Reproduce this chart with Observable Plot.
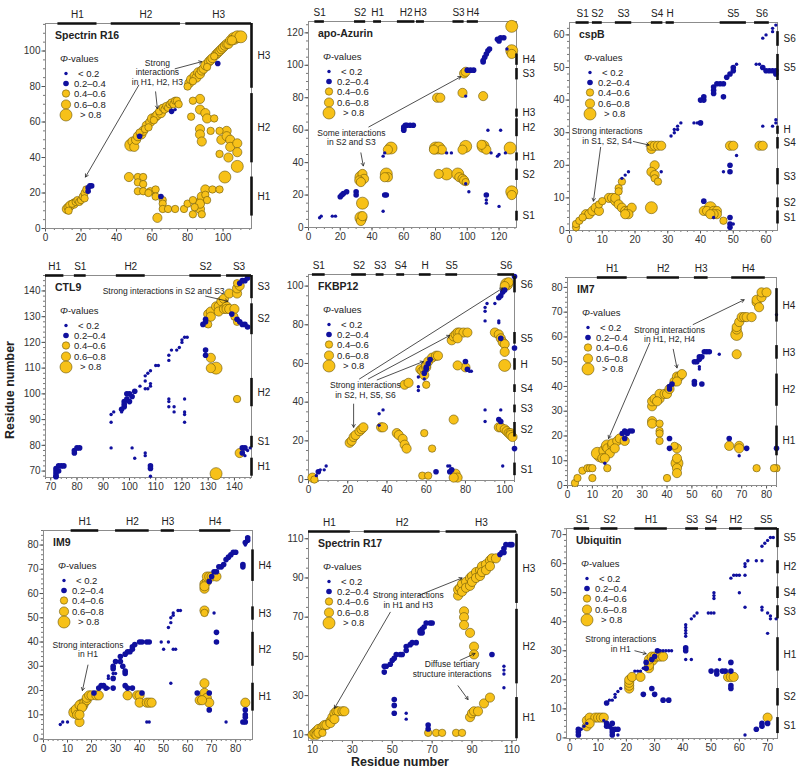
<!DOCTYPE html>
<html><head><meta charset="utf-8">
<script src="https://cdn.jsdelivr.net/npm/d3@7"></script>
<script src="https://cdn.jsdelivr.net/npm/@observablehq/plot@0.6"></script>
<style>
body{margin:0;background:#fff;font-family:Arial,"Liberation Sans",sans-serif}
#wrap{position:relative;width:800px;height:773px;overflow:hidden;background:#fff}
.axlab{position:absolute;font-weight:bold;font-size:12.5px;color:#222;white-space:nowrap}
</style></head><body><div id="wrap"></div>
<script>
// ---------- shared legend values ----------
const phiLabels = ["< 0.2", "0.2\u20130.4", "0.4\u20130.6", "0.6\u20130.8", "> 0.8"];

// ---------- Spectrin R16 ----------
const r16Ticks = [0,20,40,60,80,100];
const r16Segs = [["H1",7,29],["H2",37,76],["H3",79,116]];
const r16Pts = [
[12,11,3],[13,10,2],[13,12,3],[14,13,3],[15,14,2],[16,14,3],[17,15,2],[18,16,2],[19,15,2],[20,16,2],[21,18,2],[22,20,2],[22,17,2],[23,22,2],
[24,23,1],[25,24,1],[26,24,1],[24,21,1],
[48,47,4],[49,49,3],[50,46,3],[51,50,3],[52,52,3],[53,54,2],[54,53,3],[55,55,3],[56,56,2],[57,58,3],[58,57,2],[59,60,3],[60,62,3],[61,61,2],[62,63,3],[63,64,3],[64,66,2],[65,65,3],[66,68,2],[67,67,2],[68,69,2],[69,68,2],[70,70,2],[71,71,2],[72,70,2],[73,72,2],[74,72,2],[75,70,2],
[53,52,1],[71,66,1],[73,67,0],
[80,80,2],[81,82,3],[82,84,3],[83,83,2],[84,86,3],[85,85,3],[86,88,3],[87,87,3],[88,89,3],[89,90,3],[90,92,3],[91,91,2],[92,94,3],[93,95,3],[94,96,3],[95,97,2],[96,98,3],[97,99,3],[98,100,3],[99,101,3],[100,102,3],[101,103,3],[102,104,3],[103,104,3],[104,106,3],[105,106,3],[106,107,4],[108,108,4],[110,108,4],
[97,93,1],
[83,72,2],[87,73,3],[87,67,3],[90,65,3],[82,63,2],[91,62,3],[95,62,2],[87,56,3],[87,53,3],[88,49,3],[93,55,2],[98,55,2],[102,55,3],[99,50,3],[102,52,3],[104,50,3],[104,46,3],[108,48,3],[108,43,3],[98,42,2],[103,40,3],[108,35,4],[101,29,4],
[47,29,3],[52,29,2],[52,26,2],[55,29,2],[55,25,2],[52,21,2],[55,21,2],[59,21,2],[62,22,2],[62,18,2],[58,20,2],[66,16,2],[66,14,2],[66,11,2],[69,11,2],[73,11,2],[78,11,2],[63,6,3],
[65,18,1],
[80,14,2],[83,16,2],[83,8,2],[84,12,2],[87,15,3],[87,11,3],[88,18,3],[90,22,3],[90,19,2],[94,22,2],[98,22,2],[88,8,2],[91,16,2],[87,14,3]
];
const r16Notes = [{x:63, y:88, text:"Strong\ninteractions\nin H1, H2, H3"}];
const r16Arrows = [[62,77,63,67.5],[52.5,80.7,22.5,29],[73,90,88,94]];

// ---------- apo-Azurin ----------
const azuTicks = [0,20,40,60,80,100,120];
const azuSegs = [["S1",4,10],["S2",29,36],["H1",41,46],["H2",56,67],["H3",68,73],["S3",91,98],["H4",100,107]];
const azuPts = [
[7,6,0],[8,7,0],[15,7,0],[17,7,0],[20,19,1],[21,20,1],[22,21,1],[24,22,1],[30,22,1],[30,20,1],
[33,31,4],[34,33,3],[35,30,3],[32,29,3],[33,28,3],[34,15,4],[33,6,4],[33,4,3],[34,7,3],[49,33,4],[50,31,3],[48,31,3],
[49,20,1],[48,20,1],[47,10,0],[47,44,0],[48,46,0],
[52,49,4],[50,48,3],
[60,60,1],[60,61,1],[60,62,1],[61,63,1],[62,63,1],[64,63,1],[66,63,1],
[80,49,4],[82,49,4],[84,48,3],[79,48,3],[87,46,0],[90,46,0],
[99,50,4],[97,48,3],[110,50,4],[112,48,3],[109,51,3],[115,46,0],
[127,49,4],
[119,44,0],[120,45,0],[124,46,0],[113,60,0],[121,60,0],
[82,33,3],[87,33,4],[94,33,4],[95,31,3],[97,30,3],[98,29,3],[99,28,2],[99,27,0],[101,22,0],
[112,20,1],[112,17,0],[112,15,0],[120,13,0],
[128,22,4],[128,20,3],
[81,80,3],[83,80,3],[97,83,3],[110,81,3],[99,81,0],
[98,95,3],[99,96,3],[100,97,1],[102,97,1],[104,97,1],
[110,103,1],[110,102,1],[111,105,1],[112,107,1],[113,109,1],[114,110,1],
[119,116,1],[121,117,1],[123,117,1],[120,115,1],
[125,110,0],
[128,109,4],[128,107,3],[128,124,4]
];
const azuNotes = [{x:27, y:55.5, text:"Some interactions\nin S2 and S3"}];
const azuArrows = [[33,46,34.5,38],[38,62,96,93]];

// ---------- cspB ----------
const cspTicks = [0,10,20,30,40,50,60];
const cspSegs = [["S1",2,6],["S2",7,10],["S3",14,19],["S4",25,28.5],["H",29.5,32],["S5",46,54],["S6",56.5,61]];
const cspPts = [
[2,1,2],[2,2,2],[3,3,2],[4,4,2],[5,5,3],[6,5,3],[7,6,3],[8,7,3],[9,8,2],[9,6,3],[10,9,2],[12,10,3],[13,10,3],[14,9,3],[14,10,3],[15,8,3],[15,13,2],[15,12,2],[16,15,2],[16,7,3],[17,6,3],[18,6,3],[19,7,3],[18,5,3],[17,5,3],
[16,16,0],[17,17,0],[18,18,0],
[25,7,4],
[25,25,3],[25,26,3],[26,26,3],[27,26,3],[28,26,3],[26,20,3],[25,18,3],[26,17,3],[26,16,2],[27,15,2],[28,18,0],
[31,29,0],[32,31,0],[33,31,0],[33,32,0],[32,30,0],[34,33,0],
[38,33,0],[39,33,0],[40,33,1],
[40,40,1],[41,40,1],[41,41,1],[44,43,1],[44,44,1],[45,45,1],[46,45,1],[47,45,1],[44,42,1],[47,41,1],
[48,47,1],[49,48,1],[50,49,1],[50,50,1],[51,51,0],
[47,18,0],[49,20,1],[49,18,1],[51,23,0],
[49,4,1],[49,2,1],[49,1,1],[50,2,0],
[47,3,2],
[41,6,3],[42,6,3],[43,7,4],[44,6,3],[45,6,3],[45,5,3],[44,5,3],[43,5,3],[41,9,1],[44,4,0],
[49,26,3],[50,26,3],[58,26,3],[59,26,3],
[57,51,0],[58,51,0],[59,50,1],[60,49,1],[61,49,1],[62,49,1],[63,49,1],[63,48,1],
[59,32,0],[62,32,0],[63,34,0],[63,33,0],
[59,59,0],[60,60,0],[62,61,0],[62,62,0],[63,63,0]
];
const cspNotes = [{x:11.5, y:29, text:"Strong interactions\nin S1, S2, S4"}];
const cspArrows = [[9.5,25.5,7.3,9],[19.5,27.3,24.3,26.2]];

// ---------- CTL9 ----------
const ctlTicks = [70,80,90,100,110,120,130,140];
const ctlSegs = [["H1",68,75],["S1",79,83.5],["H2",95,106],["S2",123,135],["S3",137,146.5]];
const ctlPts = [
[72,68,1],[72,69,1],[72,70,1],[72,71,1],[73,72,1],[74,72,1],[75,72,1],[73,70,1],[72,67.8,1],
[79,77,1],[79,78,1],[80,79,1],[81,79,1],
[93,89,0],[93,92,0],[94,93,0],[97,93,0],[98,95,1],[98,97,1],[99,98,1],[99,100,1],[100,100,1],[102,101,1],[100,97,1],[101,99,1],[98,96,1],[97,94,1],
[104,103,0],[106,102,0],[107,102,0],[108,103,0],[106,105,0],[106,107,0],[107,108,0],[108,109,0],[110,111,0],[111,111,0],[115,113,0],[115,115,0],[116,117,0],[118,117,0],[119,118,0],[120,120,0],[120,121,0],[121,122,0],[122,122,0],[108,104,0],
[93,79,0],[101,79,0],[102,75,0],[106,76,0],[106,77,0],[108,72,1],[108,71,1],[108,68,0],
[115,98,0],[115,97,0],[115,95,0],[117,95,0],[117,93,0],[121,93,0],[121,92,0],[121,89,0],[121,98,0],
[129,129,1],[129,128,1],[128,127,1],[139,131,1],[141,129,1],[142,128,1],[143,127,1],[144,127,1],[145,126,1],[142,143,1],[143,144,1],[144,144,1],[145,145,1],
[130,131,3],[131,132,3],[133,134,3],[134,134,3],[135,136,3],[136,137,3],[138,139,3],[131,130,3],[134,132,3],[136,133,3],[137,134,3],[137,133,3],[138,133,3],[140,133,3],[130,127,2],[140,130,2],[141,128,2],[141,139,3],[141,141,3],[142,142,3],[141,143,2],
[131,114,3],[131,110,3],[133,110,4],[129,117,1],[129,115,1],
[141,98,2],
[142,77,3],[143,79,1],[144,79,1],[145,78,0],[143,77,1],[144,76,0],[146,79,0],
[133,69,4]
];
const ctlNotes = [{x:113, y:140, text:"Strong interactions in S2 and S3"}];
const ctlArrows = [[129,138,137.5,136]];

// ---------- FKBP12 ----------
const fkbTicks = [0,20,40,60,80,100];
const fkbSegs = [["S1",2,8.5],["S2",22,29.5],["S3",34.5,38.5],["S4",45,49],["H",56.5,62.5],["S5",70,76],["S6",96.5,105]];
const fkbPts = [
[2,1,3],[3,0,2],[4,2,0],[5,4,1],[6,5,0],[8,5,0],[9,7,0],
[21,19,3],[22,20,3],[23,22,3],[24,23,3],[26,25,3],[27,26,3],[28,27,3],
[36,28,0],[36,34,0],[38,36,0],[37,27,3],[38,27,3],
[45,24,3],[46,23,3],[48,21,3],[49,18,3],[50,16,3],
[59,24,2],[63,16,2],[58,2,2],[61,2,2],
[65,4,1],[71,7,0],[72,7,0],[72,4,1],[73,5,1],
[75,3,3],[76,1,3],[74,1,3],
[74,31,3],
[56,48,0],[56,46,0],[56,53,0],
[49,49,3],[51,50,3],
[57,57,3],[58,56,3],[59,57,3],[60,58,3],[60,59,3],[61,61,3],[63,63,3],[65,64,3],[66,64,3],[60,49,2],[59,54,3],
[60,57,1],[60,58,1],[61,60,1],[62,62,1],[59,52,0],[59,55,1],
[80,61,1],[81,57,1],[82,56,0],[83,56,0],[80,58,3],[76,59,3],
[73,72,3],[74,74,3],[75,75,3],[76,76,3],[77,76,3],[79,76,3],[81,76,3],[76,73,3],
[90,82,0],[91,91,0],[90,89,0],[90,87,0],[95,91,0],[97,81,0],[97,82,0],
[98,95,1],[99,97,1],[100,98,1],[97,94,1],
[101,101,4],[102,102,3],[100,100,3],
[105,105,1],[105,68,1],[105,16,1],
[95,76,3],[97,75,3],[98,73,3],[99,71,3],[100,70,3],[100,66,3],[100,59,4],[98,73,1],
[90,36,0],[98,36,0],[90,30,0],[97,31,1],[98,30,1],
[97,27,3],[98,27,3],[100,26,3],[101,25,3],[102,24,3],[103,24,3],[103,23,3],[104,22,3],
[99,7,0]
];
const fkbNotes = [{x:29, y:46.5, text:"Strong interactions\nin S2, H, S5, S6"}];
const fkbArrows = [[23,39,23,27],[26,52,99,99],[30.5,52,72,74.5],[35,51.5,58.5,61]];

// ---------- IM7 ----------
const im7Ticks = [0,10,20,30,40,50,60,70,80];
const im7Segs = [["H1",12,24],["H2",32,45],["H3",51,56.5],["H4",66,79.5]];
const im7Pts = [
[3,1,2],[4,3,2],[6,6,2],[8,7,2],[9,7,2],[10,7,2],[10,3,2],
[13,12,4],[12,13,4],[14,11,3],[15,14,4],[16,15,3],[16,16,4],[18,16,3],[18,17,3],[20,18,3],[21,19,3],[23,18,3],[16,7,2],[17,13,3],[19,15,3],[15,11,3],
[22,21,1],[23,22,1],[25,22,1],[26,22,1],[24,21,1],[23,19,1],[15,9,0],
[34,32,3],[34,34,3],[35,35,3],[37,35,3],[37,37,3],[39,37,3],[40,37,3],[41,39,3],[43,42,3],[44,44,3],[45,44,3],[46,45,3],[44,42,3],[36,34,3],
[41,39,1],[41,40,1],[42,41,1],
[34,26,3],[34,25,3],[37,25,2],[37,22,2],[37,21,2],[37,18,2],
[41,19,1],[41,15,1],[40,3,2],
[44,15,3],[44,11,3],[44,9,4],[44,7,3],[44,5,3],[43,16,2],
[51,41,1],[51,42,1],[51,50,1],[52,50,1],[53,51,1],[53,52,1],[54,52,1],[55,54,1],[56,54,1],[57,54,1],[53,48,0],[53,47,0],[54,41,1],[61,53,0],
[68,53,3],
[68,61,4],[68,63,3],[68,64,3],[69,66,3],[70,68,3],[71,68,3],[72,68,3],[74,68,3],[76,74,3],[76,75,3],[78,76,3],[78,78,3],[80,78,3],[77,72,3],
[65,19,1],[65,16,3],[69,16,3],[69,15,3],[69,12,0],[72,15,1],
[76,7,2],[84,7,2],[83,7,2],
[84,15,1],[84,69,0]
];
const im7Notes = [{x:41, y:61, text:"Strong interactions\nin H1, H2, H4"}];
const im7Arrows = [[33,57.5,16.5,19],[42.5,55,44,47.5],[50.5,65,71,75]];

// ---------- IM9 ----------
const im9Ticks = [0,10,20,30,40,50,60,70,80];
const im9Segs = [["H1",11.5,23],["H2",30,44],["H3",49,54.5],["H4",65,78]];
const im9Pts = [
[7,6,0],[8,7,0],[10,7,0],[15,7,3],
[13,11,4],[14,12,4],[15,14,3],[16,14,4],[17,15,3],[18,16,3],[18,17,3],[19,18,3],[20,18,3],[22,18,3],[23,18,3],[16,13,3],[14,10,3],[15,10,3],
[21,19,1],[23,21,1],[24,22,1],[25,22,1],[26,21,1],[27,26,0],[27,25,0],[29,27,0],[30,27,0],[27,21,0],
[29,29,1],[29,30,1],[30,32,1],[32,32,1],[32,34,1],[34,35,1],[35,36,1],[36,36,1],[37,37,1],[37,38,1],[38,39,1],[40,40,1],[41,40,1],[43,40,1],[44,40,1],[29,25,1],[29,21,1],[33,30,1],[34,28,1],[34,27,1],[34,22,1],[35,21,1],[37,21,1],[41,19,1],
[35,18,3],[39,18,3],[40,18,3],[40,15,3],[43,15,3],[44,15,3],[45,15,3],
[43,7,0],[44,7,0],
[49,40,0],[50,37,0],[52,40,0],[54,37,0],[55,37,0],[53,23,0],[52,46,0],[53,48,0],[53,50,0],[54,51,0],[54,52,0],[56,53,0],[57,53,0],
[67,53,3],[67,52,2],
[71,52,0],[72,44,1],[72,40,1],
[67,64,3],[67,62,3],[68,65,3],[68,67,3],[69,67,3],[70,67,3],[72,67,3],[67,63,3],
[69,65,1],[70,67,1],[71,69,1],[72,69,1],[74,71,1],[75,72,1],[76,74,1],[77,75,1],[78,76,1],[79,77,1],[80,77,1],[73,71,1],[83,72,1],[83,71,1],[84,81,1],[85,83,1],[85,82,1],[84,80,0],
[67,23,3],[67,19,3],[68,17,3],[69,15,3],[65,16,3],[66,16,3],[64,19,1],[69,12,1],[69,19,1],
[76,7,0],
[84,12,1],[84,10,1],[84,9,1],[84,7,1],[83,7,1],[84,15,3]
];
const im9Notes = [{x:18.5, y:37, text:"Strong interactions\nin H1"}];
const im9Arrows = [[18.5,30.5,16.2,20]];

// ---------- Spectrin R17 ----------
const r17Ticks = [10,30,50,70,90,110];
const r17Segs = [["H1",8,29],["H2",36,74],["H3",77,112.3]];
const r17Pts = [
[10,10,3],[11,11,3],[12,12,3],[13,13,3],[15,14,3],[16,15,3],[17,15,3],[12,10,3],[13,11,3],[15,11,2],[19,17,3],[19,16,3],[20,19,3],[21,21,3],[22,22,3],[23,22,3],[25,22,3],[26,22,3],[21,18,3],
[46,42,1],[46,45,1],[47,45,1],[49,46,1],[50,48,1],[51,49,1],[52,51,1],[54,51,1],[55,51,1],[57,53,1],[57,55,1],[59,56,1],[60,57,1],[62,57,1],[64,62,1],[64,63,1],[65,64,1],[66,65,1],[67,67,1],[69,67,1],[70,67,1],[65,62,1],
[51,28,1],[51,25,1],[51,21,1],[57,21,0],[57,18,0],[68,15,1],[68,13,1],
[68,11,2],[72,11,2],[75,11,2],[82,11,2],[85,11,2],
[83,81,3],[83,84,3],[84,85,3],[85,87,3],[87,88,3],[89,90,3],[90,91,3],[92,93,3],[94,94,3],[95,96,3],[97,97,3],[99,99,3],[100,100,3],[102,100,3],[85,83,3],[87,85,3],[89,86,3],[90,88,3],[92,90,3],[94,91,3],[95,93,3],[97,94,3],[99,96,3],
[104,102,1],[105,103,1],[106,105,1],[107,107,1],[109,107,1],[110,107,1],[106,103,1],
[86,73,3],[86,70,3],[86,66,3],[89,62,3],[91,55,3],[91,51,3],[100,51,1],
[106,45,0],[106,43,0],[106,41,0],[106,34,0],
[89,19,3],[90,21,3],[91,22,3],[93,22,3],[96,26,3],[99,29,3]
];
const r17Notes = [{x:58, y:79, text:"Strong interactions\nin H1 and H3"},{x:80, y:43.5, text:"Diffuse tertiary\nstructure interactions"}];
const r17Arrows = [[49,72.5,21,23.5],[63,81,85,90],[84,48,91.5,51.5],[83,35,88,28]];

// ---------- Ubiquitin ----------
const ubqTicks = [0,10,20,30,40,50,60,70];
const ubqSegs = [["S1",1.5,7],["S2",11,17],["H1",23,34.5],["S3",41,45.5],["S4",48,52],["H2",56.5,61],["S5",65.5,73.5]];
const ubqPts = [
[6,4,3],[6,6,3],[7,7,3],[9,7,3],[10,7,3],[11,7,3],[12,7,3],[7,5,3],
[3,2,1],[3,3,1],[4,3,0],[5,4,0],[6,5,0],[3,1,1],
[13,5,1],[13,4,1],[14,4,1],[15,3,1],[15,5,1],[16,3,1],[15,2,1],[15,1,1],[17,3,1],[17,1,0],[12,6,0],
[13,12,1],[14,13,0],[16,14,0],[16,15,0],[17,16,0],[18,17,0],[15,13,0],
[21,17,3],[21,18,3],[21,19,3],[21,20,3],[22,21,3],[25,21,3],
[23,23,0],[24,23,0],[25,23,0],[26,24,0],[27,24,1],[27,26,1],[29,27,1],[30,28,1],[31,30,1],[32,30,0],[33,30,0],[35,30,0],[36,30,0],[34,30,0],
[28,24,3],[28,25,3],[28,27,3],[29,28,3],[30,28,3],[31,28,3],[32,28,3],[33,28,3],[29,27,4],
[26,15,1],[29,17,1],[30,15,1],[33,13,1],[35,13,1],
[41,39,0],[41,38,0],[41,37,0],[41,36,0],[41,35,0],[43,41,0],[44,42,0],[45,43,0],[41,31,1],[41,30,1],[41,27,0],[43,27,0],
[49,43,0],[50,43,0],[51,43,0],[51,50,0],[51,49,0],[51,48,0],
[53,27,0],[50,23,1],[52,23,1],[52,22,1],[54,23,1],[55,23,1],[57,26,1],[57,23,1],[57,18,1],[57,17,1],
[56,21,3],[57,21,3],[58,21,3],
[57,55,0],[58,56,0],[59,56,0],[60,56,0],[62,56,0],[62,59,0],[62,60,0],[63,61,0],[60,50,0],[62,45,0],[66,61,0],[68,61,0],
[68,66,0],[69,67,0],[70,68,0],[71,69,0],[72,69,0],
[68,45,0],[68,44,0],[70,43,0],[71,42,0],[71,41,0],[70,36,0],[73,41,0],
[62,1,0],[66,3,1],[68,4,1],[68,5,1],[70,5,1],
[70,7,3]
];
const ubqNotes = [{x:18, y:32.3, text:"Strong interactions\nin H1"}];
const ubqArrows = [[23,30,27,29]];

// ---------- layout & style ----------
const FONT = 'Arial, "Liberation Sans", Helvetica, sans-serif';
const BLUE = "#10109e";
const YELLOW = "#f7c118";
const RADII = [1.7, 2.8, 3.7, 4.6, 6.0];

const panels = [
  {title:"Spectrin R16", pts:r16Pts, segs:r16Segs, xt:r16Ticks, yt:r16Ticks, minor:5, xd:[0,116], yd:[0,115.5], box:[45,23,251,228], notes:r16Notes, arrows:r16Arrows},
  {title:"apo-Azurin", pts:azuPts, segs:azuSegs, xt:azuTicks, yt:azuTicks, minor:5, xd:[0,131], yd:[0,127], box:[308,21,516,227], notes:azuNotes, arrows:azuArrows},
  {title:"cspB", pts:cspPts, segs:cspSegs, xt:cspTicks, yt:cspTicks, minor:2, xd:[0,63.5], yd:[0,63.8], box:[569,22,777,230], notes:cspNotes, arrows:cspArrows},
  {title:"CTL9", pts:ctlPts, segs:ctlSegs, xt:ctlTicks, yt:ctlTicks, minor:2, xd:[68,146.5], yd:[67.5,146], box:[45,275,251,477], notes:ctlNotes, arrows:ctlArrows},
  {title:"FKBP12", pts:fkbPts, segs:fkbSegs, xt:fkbTicks, yt:fkbTicks, minor:5, xd:[0,105], yd:[-0.5,106], box:[308,274,514,480], notes:fkbNotes, arrows:fkbArrows},
  {title:"IM7", pts:im7Pts, segs:im7Segs, xt:im7Ticks, yt:im7Ticks, minor:2, xd:[0,84], yd:[0,84], box:[567,277,776,485], notes:im7Notes, arrows:im7Arrows},
  {title:"IM9", pts:im9Pts, segs:im9Segs, xt:im9Ticks, yt:im9Ticks, minor:2, xd:[0,87], yd:[-0.2,86], box:[43,530,252,739], notes:im9Notes, arrows:im9Arrows},
  {title:"Spectrin R17", pts:r17Pts, segs:r17Segs, xt:r17Ticks, yt:r17Ticks, minor:5, xd:[8,112.3], yd:[7.1,113.7], box:[308,531,516,740], notes:r17Notes, arrows:r17Arrows},
  {title:"Ubiquitin", pts:ubqPts, segs:ubqSegs, xt:ubqTicks, yt:ubqTicks, minor:2, xd:[-1.2,73.5], yd:[-0.2,72.1], box:[566,528,777,738], notes:ubqNotes, arrows:ubqArrows}
];

const wrap = document.getElementById("wrap");

function drawPanel(p) {
  const [L,T,R,B] = p.box;
  const ml = 34, mr = 34, mt = 22, mb = 22;
  const W = R - L + ml + mr, H = B - T + mt + mb;
  const [xa, xb] = p.xd, [ya, yb] = p.yd;
  const st = p.minor;
  const xMinor = d3.range(Math.ceil(xa / st) * st, xb + 1e-9, st);
  const yMinor = d3.range(Math.ceil(ya / st) * st, yb + 1e-9, st);
  const sorted = p.pts.slice().sort((a, b) => b[2] - a[2]);
  const yel = sorted.filter(d => d[2] >= 2);
  const blu = sorted.filter(d => d[2] < 2);
  const sx1 = d => Math.max(d[1], xa), sx2 = d => Math.min(d[2], xb);
  const sy1 = d => Math.max(d[1], ya), sy2 = d => Math.min(d[2], yb);
  const svg = Plot.plot({
    width: W, height: H,
    marginLeft: ml, marginRight: mr, marginTop: mt, marginBottom: mb,
    x: {domain: p.xd}, y: {domain: p.yd}, r: {type: "identity"},
    style: {fontFamily: FONT, fontSize: "10px", overflow: "visible", background: "transparent", color: "#333"},
    marks: [
      Plot.axisX({ticks: xMinor, tickSize: 2, tickFormat: () => "", label: null, stroke: "#777"}),
      Plot.axisY({ticks: yMinor, tickSize: 2, tickFormat: () => "", label: null, stroke: "#777"}),
      Plot.axisX({ticks: p.xt, tickSize: 3.5, tickPadding: 1.5, label: null, fontSize: 10, fill: "#333", stroke: "#555"}),
      Plot.axisY({ticks: p.yt, tickSize: 3.5, tickPadding: 1.5, label: null, fontSize: 10, fill: "#333", stroke: "#555"}),
      Plot.frame({stroke: "#8c8c8c", strokeWidth: 1}),
      Plot.dot(yel, {x: d => d[0], y: d => d[1], r: d => RADII[d[2]], fill: YELLOW, stroke: "#6a5608", strokeWidth: 0.6}),
      Plot.dot(blu, {x: d => d[0], y: d => d[1], r: d => RADII[d[2]], fill: BLUE, stroke: "none"}),
      Plot.ruleY(p.segs, {y: () => yb, x1: sx1, x2: sx2, stroke: "#111", strokeWidth: 2.6}),
      Plot.ruleX(p.segs, {x: () => xb, y1: sy1, y2: sy2, stroke: "#111", strokeWidth: 2.6}),
      Plot.text(p.segs, {x: d => (sx1(d) + sx2(d)) / 2, y: () => yb, text: d => d[0], dy: -9, fontSize: 10, fill: "#222"}),
      Plot.text(p.segs, {x: () => xb, y: d => (sy1(d) + sy2(d)) / 2, text: d => d[0], dx: 6, textAnchor: "start", fontSize: 10, fill: "#222"}),
      Plot.arrow(p.arrows, {x1: d => d[0], y1: d => d[1], x2: d => d[2], y2: d => d[3], stroke: "#222", strokeWidth: 0.8, headLength: 6}),
      Plot.text(p.notes, {x: "x", y: "y", text: "text", fontSize: 8.5, fill: "#222", lineHeight: 1.15})
    ]
  });
  svg.style.position = "absolute";
  svg.style.left = (L - ml) + "px";
  svg.style.top = (T - mt) + "px";
  // in-panel title and legend
  const g = d3.select(svg).append("g").attr("transform", `translate(${ml},${mt})`)
    .attr("font-family", FONT).attr("fill", "#222").attr("text-anchor", "start");
  g.append("text").attr("x", 10).attr("y", 16).attr("text-anchor", "start").attr("font-weight", "bold").attr("font-size", 10.5).text(p.title);
  const phiT = g.append("text").attr("x", 15).attr("y", 39).attr("text-anchor", "start").attr("font-size", 9.5);
  phiT.append("tspan").attr("font-style", "italic").text("\u03A6");
  phiT.append("tspan").text("-values");
  const rowY = [50.5, 60.5, 70.5, 81.5, 92];
  const textX = [33, 29, 29, 29, 35];
  phiLabels.forEach((lab, i) => {
    g.append("circle").attr("cx", 21).attr("cy", rowY[i]).attr("r", RADII[i])
      .attr("fill", i < 2 ? BLUE : YELLOW).attr("stroke", i < 2 ? "none" : "#6a5608").attr("stroke-width", 0.6);
    g.append("text").attr("x", textX[i]).attr("y", rowY[i]).attr("dy", "0.35em").attr("text-anchor", "start").attr("font-size", 9.5).text(lab);
  });
  wrap.appendChild(svg);
}

panels.forEach(drawPanel);

const yl = document.createElement("div");
yl.className = "axlab";
yl.textContent = "Residue number";
yl.style.left = "10px"; yl.style.top = "390px";
yl.style.transform = "translate(-50%,-50%) rotate(-90deg)";
wrap.appendChild(yl);
const xl = document.createElement("div");
xl.className = "axlab";
xl.textContent = "Residue number";
xl.style.left = "400px"; xl.style.top = "762px";
xl.style.transform = "translate(-50%,-50%)";
wrap.appendChild(xl);
</script></body></html>
